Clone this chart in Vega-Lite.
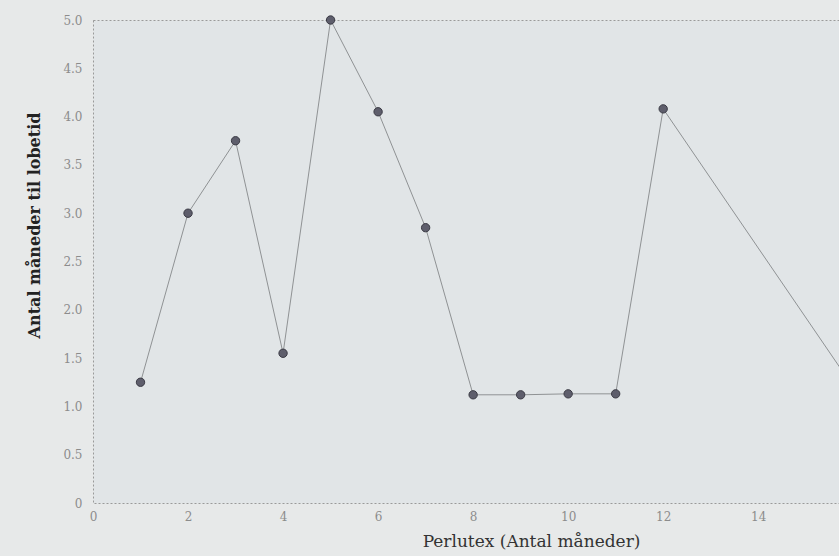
{
  "$schema": "https://vega.github.io/schema/vega-lite/v6.json",
  "width": 746,
  "height": 483,
  "autosize": {"type": "none"},
  "padding": {"left": 93, "top": 20, "right": 0, "bottom": 53},
  "background": "#e7e9e9",
  "config": {
    "view": {"fill": "#e1e5e7", "stroke": "#9a9a9a", "strokeDash": [2, 2], "strokeWidth": 1},
    "font": "DejaVu Serif",
    "axis": {"domain": false, "ticks": false, "grid": false, "labelFont": "DejaVu Serif", "titleFont": "DejaVu Serif"}
  },
  "data": {
    "values": [
      {"x": 1, "y": 1.25},
      {"x": 2, "y": 3.0},
      {"x": 3, "y": 3.75},
      {"x": 4, "y": 1.55},
      {"x": 5, "y": 5.0},
      {"x": 6, "y": 4.05},
      {"x": 7, "y": 2.85},
      {"x": 8, "y": 1.12},
      {"x": 9, "y": 1.12},
      {"x": 10, "y": 1.13},
      {"x": 11, "y": 1.13},
      {"x": 12, "y": 4.08},
      {"x": 16, "y": 1.2}
    ]
  },
  "encoding": {
    "x": {
      "field": "x", "type": "quantitative",
      "scale": {"domain": [0, 15.7], "nice": false, "zero": true},
      "axis": {"values": [0, 2, 4, 6, 8, 10, 12, 14], "labelColor": "#8c8c8c", "labelFontSize": 12, "labelPadding": 8, "labelFlush": false,
               "title": "Perlutex (Antal måneder)", "titleFontSize": 17, "titleFontWeight": "normal", "titleColor": "#333333", "titlePadding": 11, "titleX": 438}
    },
    "y": {
      "field": "y", "type": "quantitative",
      "scale": {"domain": [0, 5], "nice": false},
      "axis": {"values": [0, 0.5, 1, 1.5, 2, 2.5, 3, 3.5, 4, 4.5, 5], "labelExpr": "datum.value == 0 ? '0' : format(datum.value, '.1f')",
               "labelColor": "#8c8c8c", "labelFontSize": 12, "labelPadding": 11, "labelFlush": false,
               "title": "Antal måneder til lobetid", "titleFontSize": 16, "titleFontWeight": "bold", "titleColor": "#222222", "titlePadding": 20, "titleY": 205}
    }
  },
  "layer": [
    {"mark": {"type": "line", "color": "#8f9294", "strokeWidth": 1, "clip": false}},
    {"mark": {"type": "point", "filled": true, "shape": "circle", "size": 70, "fill": "#5e5e6c", "stroke": "#3a3a44", "strokeWidth": 1, "opacity": 1, "clip": false}}
  ]
}
